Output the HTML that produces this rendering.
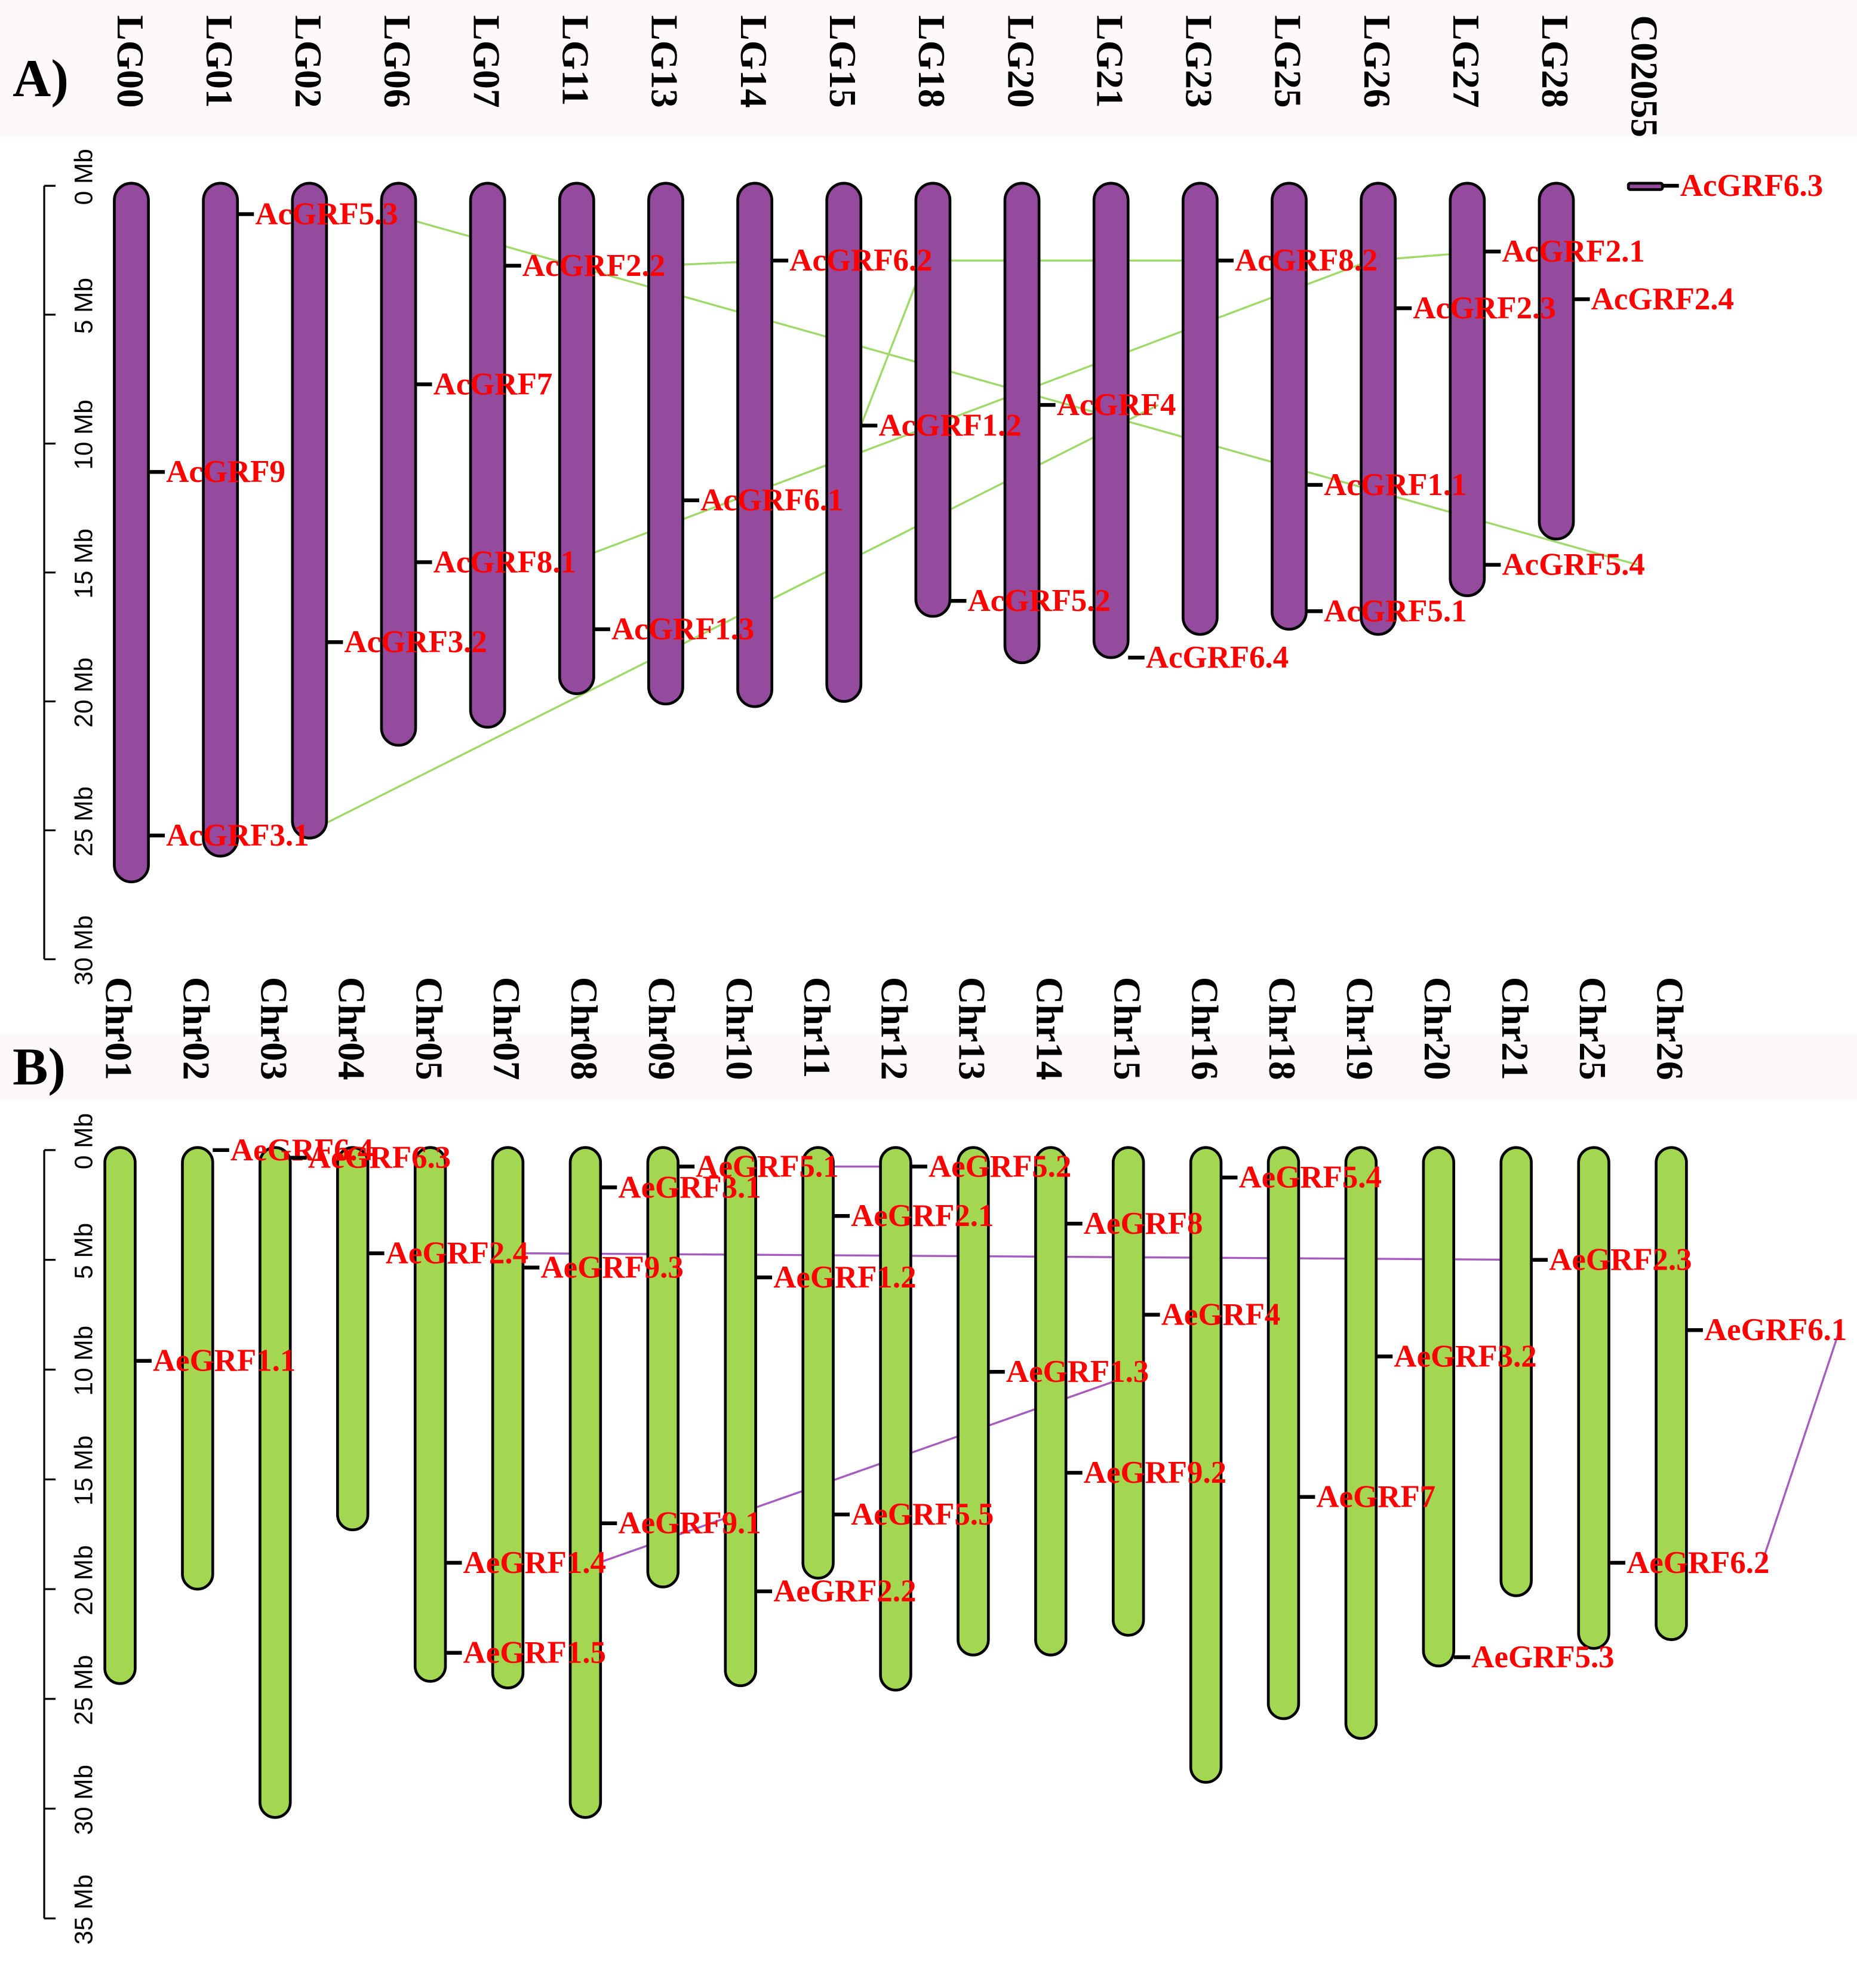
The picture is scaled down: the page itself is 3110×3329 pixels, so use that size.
<!DOCTYPE html>
<html><head><meta charset="utf-8">
<style>
html,body{margin:0;padding:0;background:#fff;}
svg{display:block;}
.chr{font-family:"Liberation Serif",serif;font-weight:bold;font-size:30px;fill:#000;}
.gene{font-family:"Liberation Serif",serif;font-weight:bold;font-size:25px;fill:#ff0000;}
.ax{font-family:"Liberation Sans",sans-serif;font-size:20px;fill:#000;}
.panel{font-family:"Liberation Serif",serif;font-weight:bold;font-size:42px;fill:#000;}
</style></head>
<body>
<svg id="fig" width="3110" height="3329" viewBox="0 0 1470 1573" preserveAspectRatio="none" xmlns="http://www.w3.org/2000/svg">
<rect x="0" y="0" width="1470" height="108" fill="#fdf9fa"/>
<rect x="0" y="818" width="1470" height="52" fill="#fdf9fa"/>
<text class="panel" x="10" y="76">A)</text>
<text class="panel" x="10" y="858">B)</text>
<g id="gA"></g>
<g id="gB"></g>
</svg>
<script>
// ---- Panel A data ----
const chromsA = ["LG00","LG01","LG02","LG06","LG07","LG11","LG13","LG14","LG15","LG18","LG20","LG21","LG23","LG25","LG26","LG27","LG28","C02055"];
const lengthsA = [27,26,25.3,21.7,21,19.7,20.1,20.2,20,16.7,18.5,18.3,17.4,17.2,17.4,15.9,13.7,0.1];
const geneNamesA = ["AcGRF5.3","AcGRF2.2","AcGRF6.2","AcGRF8.2","AcGRF2.1","AcGRF2.3","AcGRF2.4","AcGRF6.3","AcGRF7","AcGRF4","AcGRF1.2","AcGRF9","AcGRF1.1","AcGRF6.1","AcGRF8.1","AcGRF5.4","AcGRF5.2","AcGRF5.1","AcGRF1.3","AcGRF3.2","AcGRF6.4","AcGRF3.1"];
const geneChromA = ["LG01","LG07","LG14","LG23","LG27","LG26","LG28","C02055","LG06","LG20","LG15","LG00","LG25","LG13","LG06","LG27","LG18","LG25","LG11","LG02","LG21","LG00"];
const genePosA = [1.1,3.1,2.9,2.9,2.55,4.75,4.4,0,7.7,8.5,9.3,11.1,11.6,12.2,14.6,14.7,16.1,16.5,17.2,17.7,18.3,25.2];
const linkFromA = ["AcGRF5.3","AcGRF2.2","AcGRF6.2","AcGRF8.2","AcGRF1.2","AcGRF8.1","AcGRF3.1","AcGRF2.3"];
const linkToA = ["AcGRF5.4","AcGRF6.2","AcGRF8.2","AcGRF2.1","AcGRF6.2","AcGRF8.2","AcGRF4","AcGRF2.4"];
const linkFromAnchorA = ["end","end","end","end","tick","end","end","end"];
const linkToAnchorA = ["end","tick","tick","tick","end","end","end","tick"];
const ticksA = [0,5,10,15,20,25,30];
// ---- Panel B data ----
const chromsB = ["Chr01","Chr02","Chr03","Chr04","Chr05","Chr07","Chr08","Chr09","Chr10","Chr11","Chr12","Chr13","Chr14","Chr15","Chr16","Chr18","Chr19","Chr20","Chr21","Chr25","Chr26"];
const lengthsB = [24.3,20,30.4,17.3,24.2,24.5,30.4,19.9,24.4,19.5,24.6,23,23,22.1,28.8,25.9,26.8,23.5,20.3,22.7,22.3];
const geneNamesB = ["AeGRF6.4","AeGRF6.3","AeGRF2.4","AeGRF1.1","AeGRF9.3","AeGRF3.1","AeGRF5.1","AeGRF1.2","AeGRF2.1","AeGRF5.2","AeGRF8","AeGRF1.3","AeGRF4","AeGRF5.4","AeGRF3.2","AeGRF2.3","AeGRF6.1","AeGRF9.2","AeGRF7","AeGRF9.1","AeGRF5.5","AeGRF1.4","AeGRF2.2","AeGRF6.2","AeGRF1.5","AeGRF5.3"];
const geneChromB = ["Chr02","Chr03","Chr04","Chr01","Chr07","Chr08","Chr09","Chr10","Chr11","Chr12","Chr14","Chr13","Chr15","Chr16","Chr19","Chr21","Chr26","Chr14","Chr18","Chr08","Chr11","Chr05","Chr10","Chr25","Chr05","Chr20"];
const genePosB = [0,0.35,4.7,9.6,5.35,1.7,0.75,5.8,3,0.75,3.35,10.1,7.5,1.25,9.4,5,8.2,14.7,15.8,17,16.6,18.8,20.1,18.8,22.9,23.1];
const linkFromB = ["AeGRF2.4","AeGRF5.1","AeGRF1.4","AeGRF6.2"];
const linkToB = ["AeGRF2.3","AeGRF5.2","AeGRF1.3","AeGRF6.1"];
const linkFromAnchorB = ["end","end","end","end"];
const linkToAnchorB = ["tick","tick","end","end"];
const ticksB = [0,5,10,15,20,25,30,35];

const NS="http://www.w3.org/2000/svg";
function mk(parent,tag,attrs){const e=document.createElementNS(NS,tag);for(const k in attrs)e.setAttribute(k,attrs[k]);parent.appendChild(e);return e;}

function drawPanel(g,cfg){
  const {chroms,lengths,gNames,gChrom,gPos,lFrom,lTo,aFrom,aTo,ticks,x0,dx,y0,pxPerMb,w,fill,linkColor,labelY,axisX,maxMb,tag}=cfg;
  const xScale=i=>x0+i*dx;
  const yScale=v=>y0+v*pxPerMb;
  const ax=mk(g,"line",{x1:axisX,x2:axisX,y1:yScale(0),y2:yScale(maxMb),stroke:"#000","stroke-width":1.5});
  
  
  ticks.forEach(t=>{
    const tl=mk(g,"line",{x1:axisX,x2:axisX+9,y1:yScale(t),y2:yScale(t),stroke:"#000","stroke-width":1.5});
    
    
    const tx=mk(g,"text",{class:"ax",transform:`translate(${axisX+38},${yScale(t)-7}) rotate(-90)`,"text-anchor":"middle"});
    tx.textContent=t+" Mb";
    
    
  });
  chroms.forEach((c,i)=>{
    const t=mk(g,"text",{class:"chr",transform:`translate(${xScale(i)-11},${labelY}) rotate(90)`});
    t.textContent=c;
    
    
  });
  const gp={};
  gNames.forEach((n,k)=>{
    const ci=chroms.indexOf(gChrom[k]);
    const xr=xScale(ci)+w/2, y=yScale(gPos[k]);
    gp[n]={tick:xr,label:xr+14,end:xr+14+n.length*13.4,y:y};
  });
  lFrom.forEach((a,k)=>{
    const A=gp[a],B=gp[lTo[k]];
    const l=mk(g,"line",{x1:A[aFrom[k]],y1:A.y,x2:B[aTo[k]],y2:B.y,stroke:linkColor,"stroke-width":1.6});
    
    
  });
  chroms.forEach((c,i)=>{
    const h=Math.max(lengths[i]*pxPerMb,3);
    const r=mk(g,"rect",{x:xScale(i)-w/2,y:y0-2,width:w,height:h+2,rx:Math.min(w/2,h/2),fill:fill,stroke:"#000","stroke-width":2.2});
    
    
  });
  gNames.forEach(n=>{
    const P=gp[n];
    const tk=mk(g,"line",{x1:P.tick,x2:P.tick+13,y1:P.y,y2:P.y,stroke:"#000","stroke-width":3});
    
    
    const t=mk(g,"text",{class:"gene",x:P.label,y:P.y+8});
    t.textContent=n;
    
    
  });
}
drawPanel(document.getElementById("gA"),{chroms:chromsA,lengths:lengthsA,gNames:geneNamesA,gChrom:geneChromA,gPos:genePosA,lFrom:linkFromA,lTo:linkToA,aFrom:linkFromAnchorA,aTo:linkToAnchorA,ticks:ticksA,x0:104,dx:70.5,y0:147,pxPerMb:20.4,w:27,fill:"#944b9e",linkColor:"#9fd96a",labelY:12,axisX:35,maxMb:30,tag:"panel-a"});
drawPanel(document.getElementById("gB"),{chroms:chromsB,lengths:lengthsB,gNames:geneNamesB,gChrom:geneChromB,gPos:genePosB,lFrom:linkFromB,lTo:linkToB,aFrom:linkFromAnchorB,aTo:linkToAnchorB,ticks:ticksB,x0:95,dx:61.4,y0:910,pxPerMb:17.37,w:24,fill:"#a3d651",linkColor:"#a65cbf",labelY:773,axisX:35,maxMb:35,tag:"panel-b"});
</script>
</body></html>
